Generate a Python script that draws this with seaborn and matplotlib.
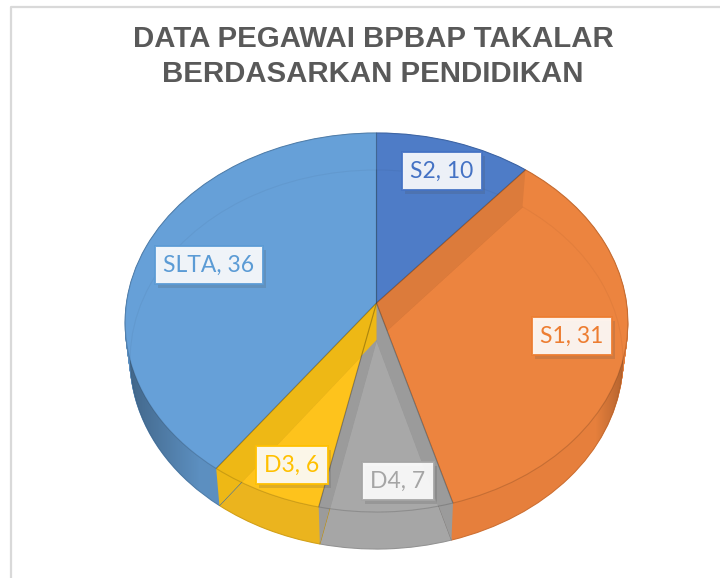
import matplotlib
matplotlib.use("Agg")
import matplotlib.pyplot as plt
import matplotlib.patheffects as pe
from matplotlib.transforms import Transform
import numpy as np
import seaborn as sns

# data
categories = ["S2", "S1", "D4", "D3", "SLTA"]
values = [10, 31, 7, 6, 36]
title_lines = ["DATA PEGAWAI BPBAP TAKALAR", "BERDASARKAN PENDIDIKAN"]

# colours per slice: lit top, wall, label
top_colors = ["#4e7cc7", "#ec843f", "#a8a8a8", "#fec31c", "#66a0d8"]
wall_colors = ["#4674bf", "#e67f3c", "#a6a6a6", "#ebb41e", "#5c8fc0"]
label_colors = ["#4472c4", "#ed7d31", "#a5a5a5", "#ffc000", "#5b9bd5"]
label_pos = [(442, 171), (572, 336), (398, 481), (292, 465), (209, 265)]

# darker cut faces: colour of the slice each one shows through
cut_colors = ["#dc7b3b", "#9b9b9b", "#9b9b9b", "#eeb815"]

sns.set_theme(style="white")
plt.rcParams["font.family"] = ["Lato", "DejaVu Sans"]


class Tilt(Transform):
    # unit circle -> tilted disc in pixels, lift 0 is the top face, 1 the bottom one
    input_dims = 2
    output_dims = 2

    def __init__(self, lift=0.0):
        super().__init__()
        self.lift = lift

    def transform_non_affine(self, xy):
        xy = np.asarray(xy)
        d = 1 + 0.103 * xy[:, 1]
        sx = 250 * (1 - 0.02 * self.lift)
        return np.column_stack([376.5 + sx * xy[:, 0] / d,
                                303 - 187.5 * xy[:, 1] / d + 37 * self.lift])


fig = plt.figure(figsize=(7.2, 5.78), dpi=100)
ax = fig.add_axes([0, 0, 1, 1])


def layer(colors, lift, z, edge=None, lw=0):
    wedges, _ = ax.pie(values, colors=colors, startangle=90, counterclock=False)
    for i, w in enumerate(wedges):
        w.set_transform(Tilt(lift) + ax.transData)
        w.set_zorder(z)
        w.set_edgecolor("none" if edge is None else edge[i])
        w.set_linewidth(lw)
    return wedges


# walls: sweep every slice down
for lift in np.linspace(0, 1, 38):
    layer(wall_colors, lift, 1, wall_colors, 0.8)
bottoms = layer(["none"] * 5, 1, 2, ["#00000014"] * 5, 0.6)

# shade towards the far ends of the wall
shade = np.zeros((1, 120, 4))
shade[0, :, 3] = np.linspace(0.3, 0, 120)
im = ax.imshow(shade, extent=(125, 200, 560, 300), aspect="auto", zorder=2)
im.set_clip_path(bottoms[4])
shade2 = np.zeros((1, 60, 4))
shade2[0, :, 3] = np.linspace(0, 0.25, 60)
im2 = ax.imshow(shade2, extent=(595, 628, 560, 300), aspect="auto", zorder=2)
im2.set_clip_path(bottoms[1])

# top face and the faint outline of the bottom face showing through it
tops = layer(top_colors, 0, 3)
through = layer(["none"] * 5, 1, 4, ["#0000000a"] * 5, 0.8)
for w, t in zip(through, tops):
    w.set_clip_path(t)

# cut faces between slices
angles = np.radians(np.cumsum(values) / np.sum(values) * 360)
top_t = Tilt(0)
low_t = Tilt(1)
for a, col in zip(angles[:4], cut_colors):
    rim = (np.sin(a), np.cos(a))
    pts = [top_t.transform_non_affine(np.array([p]))[0] for p in [(0, 0), rim]]
    pts += [low_t.transform_non_affine(np.array([p]))[0] for p in [rim, (0, 0)]]
    ax.fill(*zip(*pts), color=col, lw=0, zorder=4)
layer(["none"] * 5, 0, 5, ["#00000026"] * 5, 0.8)

ax.set_aspect("auto")
ax.set_xlim(0, 720)
ax.set_ylim(578, 0)
ax.axis("off")

# chart frame
ax.plot([11, 11, 720], [578, 7, 7], color="#d9d9d9", lw=1.6, zorder=0)

for i, line in enumerate(title_lines):
    ax.text(373, 39 + 35.5 * i, line, ha="center", va="center", fontsize=21.2,
            fontweight="bold", color="#595959", family="Liberation Sans", zorder=8)

for name, val, col, (x, y) in zip(categories, values, label_colors, label_pos):
    t = ax.text(x, y, f"{name}, {val}", ha="center", va="center", fontsize=16.5, color=col,
                zorder=8, bbox=dict(boxstyle="square,pad=0.36", fc="white", ec=col, lw=1.4, alpha=0.9))
    t.get_bbox_patch().set_path_effects([pe.SimplePatchShadow((2, -3), alpha=0.18), pe.Normal()])

fig.savefig("out.png", dpi=100)
